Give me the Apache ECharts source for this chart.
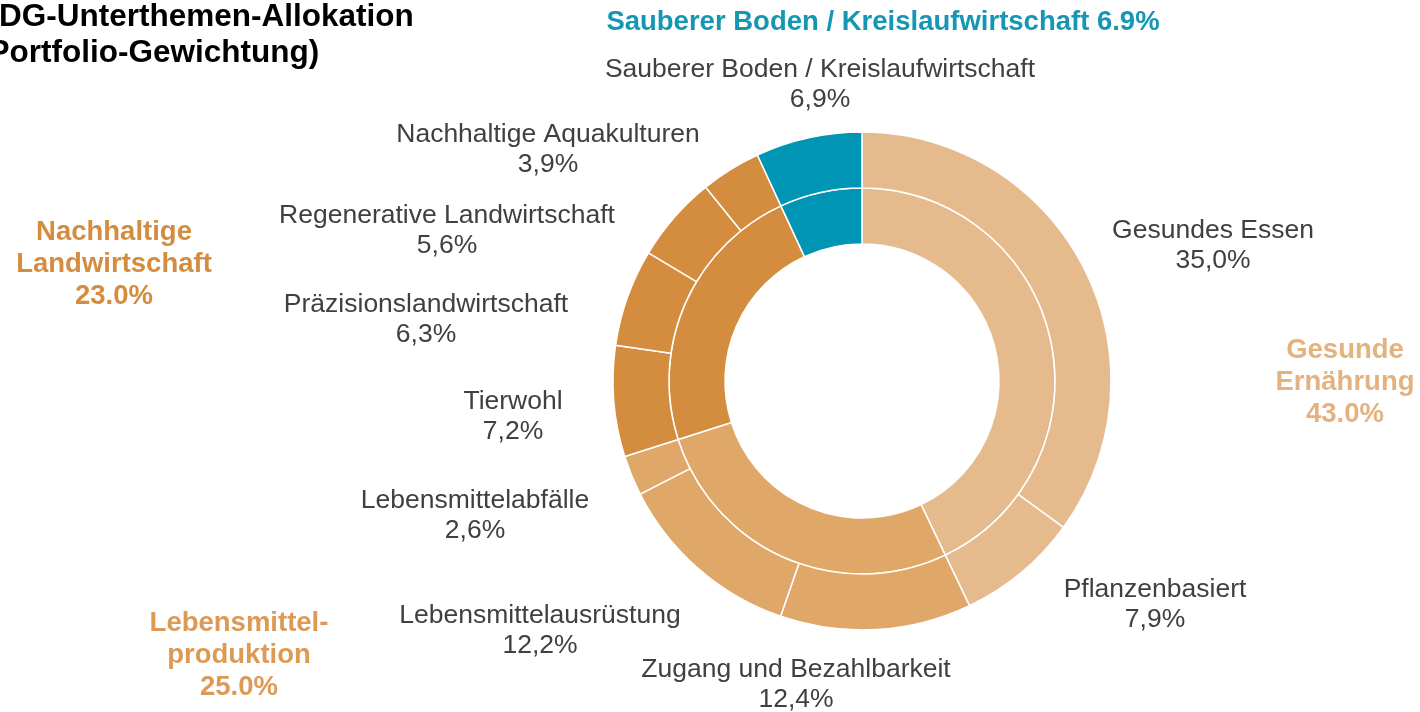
<!DOCTYPE html>
<html>
<head>
<meta charset="utf-8">
<script src="https://cdn.jsdelivr.net/npm/echarts@6/dist/echarts.min.js"></script>
<style>
    html, body { margin: 0; padding: 0; background: #ffffff; }
    #chart { width: 1420px; height: 712px; }
</style>
</head>
<body>
<div id="chart"></div>
<script>
// Unterthemen (äußerer Ring), im Uhrzeigersinn ab 12 Uhr
var subThemes = ['Gesundes Essen', 'Pflanzenbasiert', 'Zugang und Bezahlbarkeit',
    'Lebensmittelausrüstung', 'Lebensmittelabfälle', 'Tierwohl',
    'Präzisionslandwirtschaft', 'Regenerative Landwirtschaft',
    'Nachhaltige Aquakulturen', 'Sauberer Boden / Kreislaufwirtschaft'];
var subValues = [35.0, 7.9, 12.4, 12.2, 2.6, 7.2, 6.3, 5.6, 3.9, 6.9];
var subGroup = [0, 0, 1, 1, 1, 2, 2, 2, 2, 3];

// Hauptthemen (innerer Ring)
var mainThemes = ['Gesunde\nErnährung', 'Lebensmittel-\nproduktion',
    'Nachhaltige\nLandwirtschaft', 'Sauberer Boden / Kreislaufwirtschaft'];
var mainLabelPct = [43.0, 25.0, 23.0, 6.9];

// Farben
var mainColors = ['#e5bb8d', '#e0a868', '#d48c3e', '#0094b5'];
var mainTextColors = ['#e3b27f', '#dc9a55', '#d48c3e', '#1597b4'];

// Positionen der Beschriftungen (Mitte des Textblocks)
var subLabelSpots = [[1213, 246], [1155, 605], [796, 685], [540, 631], [475, 516],
    [513, 417], [426, 320], [447, 231], [548, 150], [820, 85]];
var mainLabelSpots = [[1345, 382], [239, 655], [114, 264], [883, 22]];

// innerer Ring = Summe der Unterthemen
var mainValues = mainThemes.map(function () { return 0; });
subValues.forEach(function (v, i) {
    mainValues[subGroup[i]] += v;
});

var outerData = subThemes.map(function (name, i) {
    return {
        name: name,
        value: subValues[i],
        itemStyle: { color: mainColors[subGroup[i]] }
    };
});
var innerData = mainThemes.map(function (name, i) {
    return {
        name: name,
        value: Math.round(mainValues[i] * 10) / 10,
        itemStyle: { color: mainColors[i] },
        label: { color: mainTextColors[i] }
    };
});

var chart = echarts.init(document.getElementById('chart'));
var option = {
    animation: false,
    backgroundColor: '#ffffff',
    title: {
        text: 'SDG-Unterthemen-Allokation\n(Portfolio-Gewichtung)',
        left: -22,
        top: -1,
        padding: 0,
        textStyle: {
            fontFamily: 'Liberation Sans, Arial, sans-serif',
            fontSize: 31.5,
            fontWeight: 'bold',
            lineHeight: 36,
            color: '#000000'
        }
    },
    series: [
        {
            // innerer Ring: Hauptthemen
            name: 'Hauptthemen',
            type: 'pie',
            center: [862, 381],
            radius: [137, 193],
            startAngle: 90,
            clockwise: true,
            avoidLabelOverlap: false,
            silent: true,
            data: innerData,
            itemStyle: { borderColor: '#ffffff', borderWidth: 1.5 },
            label: {
                show: true,
                position: 'outside',
                fontFamily: 'Liberation Sans, Arial, sans-serif',
                fontSize: 27.5,
                fontWeight: 'bold',
                lineHeight: 32,
                align: 'center',
                formatter: function (p) {
                    var sep = p.dataIndex === 3 ? ' ' : '\n';
                    return p.name + sep + mainLabelPct[p.dataIndex].toFixed(1) + '%';
                }
            },
            labelLine: { show: false },
            labelLayout: function (p) {
                var s = mainLabelSpots[p.dataIndex];
                return { x: s[0], y: s[1], align: 'center', verticalAlign: 'middle' };
            }
        },
        {
            // äußerer Ring: Unterthemen
            name: 'Unterthemen',
            type: 'pie',
            center: [862, 381],
            radius: [193, 249],
            startAngle: 90,
            clockwise: true,
            avoidLabelOverlap: false,
            silent: true,
            data: outerData,
            itemStyle: { borderColor: '#ffffff', borderWidth: 1.5 },
            label: {
                show: true,
                position: 'outside',
                fontFamily: 'Liberation Sans, Arial, sans-serif',
                fontSize: 26.5,
                lineHeight: 30,
                align: 'center',
                color: '#404040',
                formatter: function (p) {
                    return p.name + '\n' + p.value.toFixed(1).replace('.', ',') + '%';
                }
            },
            labelLine: { show: false },
            labelLayout: function (p) {
                var s = subLabelSpots[p.dataIndex];
                return { x: s[0], y: s[1], align: 'center', verticalAlign: 'middle' };
            }
        }
    ]
};
chart.setOption(option);
</script>
</body>
</html>
